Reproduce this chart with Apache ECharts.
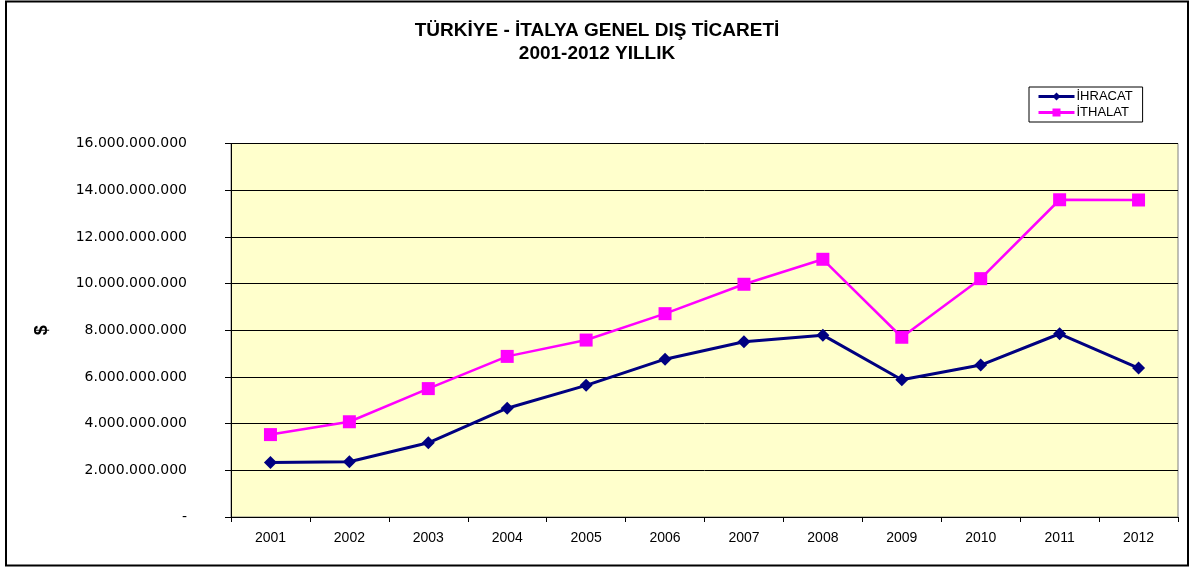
<!DOCTYPE html>
<html>
<head>
<meta charset="utf-8">
<script src="https://cdn.jsdelivr.net/npm/echarts@6/dist/echarts.min.js"></script>
<style>
html,body{margin:0;padding:0;background:#fff;}
#chart{width:1194px;height:570px;}
</style>
</head>
<body>
<div id="chart"></div>
<script>
const years = ['2001','2002','2003','2004','2005','2006','2007','2008','2009','2010','2011','2012'];
const ihracat = [2330000000, 2370000000, 3180000000, 4660000000, 5640000000, 6760000000, 7510000000, 7790000000, 5880000000, 6510000000, 7850000000, 6380000000];
const ithalat = [3530000000, 4080000000, 5500000000, 6880000000, 7580000000, 8710000000, 9970000000, 11040000000, 7700000000, 10210000000, 13590000000, 13580000000];
const titleLines = ['TÜRKİYE - İTALYA GENEL DIŞ TİCARETİ', '2001-2012 YILLIK'];
const seriesNames = ['İHRACAT', 'İTHALAT'];
const yAxisName = '$';

function fmt(v){
  if (v === 0) return '-';
  return String(Math.round(v)).replace(/\B(?=(\d{3})+(?!\d))/g, '.');
}

const chart = echarts.init(document.getElementById('chart'), null, {renderer:'canvas'});
chart.setOption({
  backgroundColor: '#ffffff',
  animation: false,
  textStyle: {fontFamily: 'Liberation Sans, Arial, sans-serif'},
  title: {
    text: titleLines.join('\n'),
    left: 'center',
    top: 14,
    textStyle: {fontSize: 19, fontWeight: 'bold', color: '#000', lineHeight: 23, fontFamily: 'Liberation Sans, Arial, sans-serif'}
  },
  legend: {
    orient: 'vertical',
    left: 1029,
    top: 87,
    padding: [3, 10, 3, 8],
    itemGap: 3,
    itemWidth: 36,
    itemHeight: 10,
    borderColor: '#000',
    borderWidth: 1,
    backgroundColor: '#fff',
    lineStyle: {width: 3},
    textStyle: {fontSize: 13, color: '#000', padding: [0,0,0,-3], fontFamily: 'Liberation Sans, Arial, sans-serif'},
    data: seriesNames
  },
  grid: {
    left: 231, right: 16, top: 143.5, bottom: 53,
    show: true, backgroundColor: '#FFFFCC', borderColor: '#808080', borderWidth: 1
  },
  xAxis: {
    type: 'category',
    data: years,
    boundaryGap: true,
    axisLine: {show: true, lineStyle: {color: '#000', width: 1}},
    axisTick: {show: true, inside: false, length: 5, alignWithLabel: false, lineStyle: {color: '#000'}},
    axisLabel: {fontSize: 14, color: '#000', margin: 14},
    splitLine: {show: false}
  },
  yAxis: {
    type: 'value',
    min: 0, max: 16000000000, interval: 2000000000,
    name: yAxisName,
    nameLocation: 'middle',
    nameRotate: 90,
    nameGap: 180,
    nameTextStyle: {fontSize: 18, fontWeight: 'bold', color: '#000'},
    axisLine: {show: true, lineStyle: {color: '#000', width: 1}},
    axisTick: {show: true, length: 6, lineStyle: {color: '#000'}},
    axisLabel: {fontSize: 14, color: '#000', margin: 44, formatter: fmt, fontFamily: 'DejaVu Sans, sans-serif'},
    splitLine: {show: true, lineStyle: {color: '#000', width: 1}}
  },
  series: [
    {
      name: seriesNames[0], type: 'line', data: ihracat,
      symbol: 'diamond', symbolSize: 13,
      lineStyle: {color: '#000080', width: 3},
      itemStyle: {color: '#000080'},
      z: 3
    },
    {
      name: seriesNames[1], type: 'line', data: ithalat,
      symbol: 'rect', symbolSize: 13,
      lineStyle: {color: '#FF00FF', width: 2.5},
      itemStyle: {color: '#FF00FF'},
      z: 2
    }
  ],
  graphic: [
    {type: 'rect', shape: {x: 6, y: 1.5, width: 1182, height: 564}, style: {fill: 'none', stroke: '#000', lineWidth: 2}, silent: true, z: 100}
  ]
});
</script>
</body>
</html>
